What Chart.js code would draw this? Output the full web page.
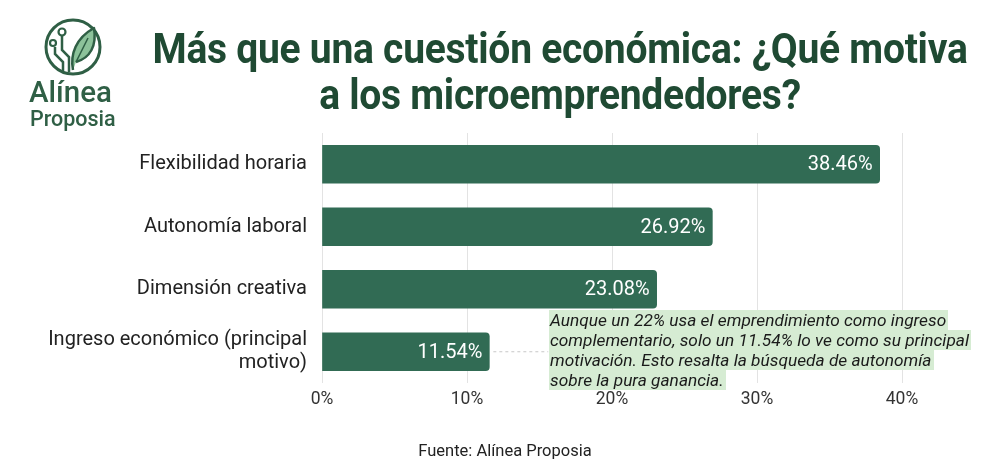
<!DOCTYPE html>
<html><head><meta charset="utf-8">
<script src="https://cdn.jsdelivr.net/npm/chart.js@4"></script>
<style>
html,body{margin:0;padding:0;background:#fff;}
#wrap{position:relative;width:1000px;height:473px;overflow:hidden;font-family:Roboto,"Noto Sans",sans-serif;}
#c{position:absolute;left:0;top:0;}
#title{position:absolute;left:110px;width:900px;top:26px;text-align:center;font-weight:700;font-size:42px;line-height:46px;color:#1f4a33;letter-spacing:-0.3px;transform:scaleX(0.93);transform-origin:450px 0;}
#note{position:absolute;left:549px;top:310px;font-style:italic;font-size:17.3px;line-height:20px;color:#1a1a1a;}
#note span{background:#d6ecd3;box-decoration-break:clone;-webkit-box-decoration-break:clone;padding:0 2px 0 1px;}
#src{position:absolute;left:0;width:1010px;top:441px;text-align:center;font-size:16.5px;color:#222;}
#logo{position:absolute;left:0;top:0;}
#brand1{position:absolute;left:29px;top:75px;font-size:29.5px;font-weight:500;color:#2f5f45;}
#brand2{position:absolute;left:30px;top:106px;font-size:21.5px;font-weight:500;color:#2f5f45;}
</style></head>
<body><div id="wrap">
<canvas id="c" width="1000" height="473"></canvas>
<svg id="logo" width="140" height="80" viewBox="0 0 140 80">
  <circle cx="73" cy="47" r="27" fill="none" stroke="#2f5f45" stroke-width="3"/>
  <path d="M73 70 C70 54 76 38 94 28 C97 46 90 58 76 62" fill="#8cc29a" stroke="#2f5f45" stroke-width="2.5" stroke-linejoin="round"/>
  <path d="M76 62 L88 38" stroke="#2f5f45" stroke-width="1.5" fill="none"/>
  <path d="M62 36 L62 50 L69 57 L69 72" fill="none" stroke="#2f5f45" stroke-width="2.5"/>
  <circle cx="62" cy="32" r="3.5" fill="none" stroke="#2f5f45" stroke-width="2.2"/>
  <path d="M55 47 L55 54 L63 62 L63 72" fill="none" stroke="#2f5f45" stroke-width="2.5"/>
  <circle cx="53" cy="43" r="3" fill="none" stroke="#2f5f45" stroke-width="2.2"/>
</svg>
<div id="brand1">Alínea</div>
<div id="brand2">Proposia</div>
<div id="title">Más que una cuestión económica: ¿Qué motiva<br>a los microemprendedores?</div>
<div id="note"><span>Aunque un 22% usa el emprendimiento como ingreso</span><br><span>complementario, solo un 11.54% lo ve como su principal</span><br><span>motivación. Esto resalta la búsqueda de autonomía</span><br><span>sobre la pura ganancia.</span></div>
<div id="src">Fuente: Alínea Proposia</div>
</div>
<script>
const categories = [
  "Flexibilidad horaria",
  "Autonomía laboral",
  "Dimensión creativa",
  ["Ingreso económico (principal", "motivo)"]
];
const values = [38.46, 26.92, 23.08, 11.54];
const valueLabels = ["38.46%", "26.92%", "23.08%", "11.54%"];
const xTicks = [0, 10, 20, 30, 40];
const noteStart = 15.6;

const labelPlugin = {
  id: 'labels',
  afterDatasetsDraw(chart) {
    const ctx = chart.ctx;
    const meta = chart.getDatasetMeta(0);
    const xs = chart.scales.x;
    ctx.save();
    const last = meta.data[3];
    ctx.strokeStyle = '#c8c8c8';
    ctx.lineWidth = 1;
    ctx.setLineDash([3, 3]);
    ctx.beginPath();
    ctx.moveTo(last.x + 4, last.y);
    ctx.lineTo(xs.getPixelForValue(noteStart), last.y);
    ctx.stroke();
    ctx.setLineDash([]);
    ctx.fillStyle = '#ffffff';
    ctx.font = '20px Roboto';
    ctx.textAlign = 'right';
    ctx.textBaseline = 'middle';
    meta.data.forEach((bar, i) => {
      ctx.fillText(valueLabels[i], bar.x - 7, bar.y + 1);
    });
    ctx.restore();
  }
};

new Chart(document.getElementById('c'), {
  type: 'bar',
  data: {
    labels: categories,
    datasets: [{
      data: values,
      backgroundColor: '#316b54',
      borderRadius: 4,
      borderSkipped: 'start',
      barThickness: 38
    }]
  },
  options: {
    indexAxis: 'y',
    responsive: false,
    animation: false,
    events: [],
    layout: { padding: { top: 133, bottom: 60, left: 0, right: 98 } },
    plugins: { legend: { display: false }, tooltip: { enabled: false } },
    scales: {
      x: {
        min: 0, max: 40,
        afterBuildTicks(s) { s.ticks = xTicks.map(v => ({ value: v })); },
        afterFit(s) { s.height = 30; },
        grid: { color: '#e3e3e3', drawTicks: false },
        border: { display: false },
        ticks: { padding: 6, color: '#333', font: { family: 'Roboto', size: 17.5 }, callback: v => v + '%' }
      },
      y: {
        afterFit(s) { s.width = 322; },
        grid: { display: false, drawTicks: false },
        border: { display: false },
        ticks: { padding: 15, color: '#222', font: { family: 'Roboto', size: 20, lineHeight: 1.15 } }
      }
    }
  },
  plugins: [labelPlugin]
});
</script>
</body></html>
